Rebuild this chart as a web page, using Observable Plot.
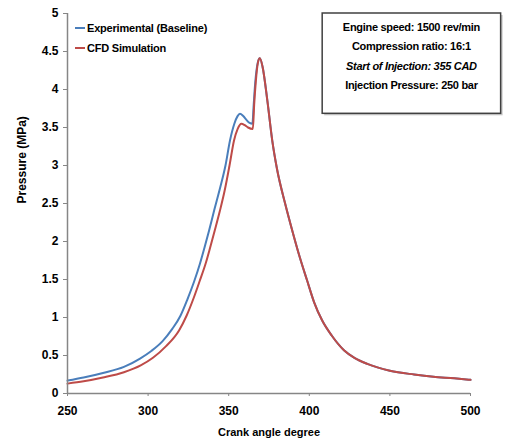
<!DOCTYPE html>
<html><head><meta charset="utf-8">
<script src="https://cdn.jsdelivr.net/npm/d3@7"></script>
<script src="https://cdn.jsdelivr.net/npm/@observablehq/plot@0.6"></script>
<style>
body{margin:0;background:#fff;}
#chart{position:relative;width:511px;height:443px;}
svg{font-family:"Liberation Sans",Arial,sans-serif;}
</style></head>
<body><div id="chart"></div>
<script>
const seriesNames = ["Experimental (Baseline)", "CFD Simulation"];
const seriesColors = ["#4a7ebb", "#be4b48"];
const expAngle = [250,260,272,285,295,302,309,315,320,324.4,328.5,332.2,335,337.8,341,344.6,348,350.8,353.5,355.5,357,359,361,363,364.7,365.5,366.5,368,369.3,371,374,377,380,385,390,394,398.6,403,408,414,421.5,428,436,450,465,477,490,500];
const expPressure = [0.17,0.21,0.27,0.35,0.46,0.56,0.69,0.85,1.02,1.24,1.47,1.71,1.92,2.14,2.41,2.70,3.0,3.33,3.55,3.65,3.68,3.65,3.6,3.56,3.55,3.8,4.1,4.35,4.41,4.3,3.85,3.33,2.95,2.5,2.1,1.8,1.49,1.2,0.96,0.76,0.57,0.47,0.39,0.30,0.25,0.22,0.20,0.18];
const cfdAngle = [250,260,272,285,295.4,303,311,319.2,324,328.5,332,335.7,338.5,341.3,344.5,347.5,350.5,353.3,355.5,357.9,360,362,365,365.8,366.8,368.2,369.3,371,374,377,380,385,390,394,398.6,403,408,414,421.5,428,436,450,465,477,490,500];
const cfdPressure = [0.13,0.16,0.21,0.28,0.37,0.47,0.62,0.83,1.03,1.27,1.48,1.71,1.92,2.14,2.4,2.67,3.0,3.33,3.48,3.55,3.53,3.5,3.48,3.8,4.1,4.36,4.41,4.3,3.85,3.33,2.95,2.5,2.1,1.8,1.49,1.2,0.96,0.76,0.57,0.47,0.39,0.30,0.25,0.22,0.20,0.18];
const xTicks = [250,300,350,400,450,500];
const yTicks = [0,0.5,1,1.5,2,2.5,3,3.5,4,4.5,5];
const infoLines = ["Engine speed: 1500 rev/min","Compression ratio: 16:1","Start of Injection: 355 CAD","Injection Pressure: 250 bar"];

const rows = [];
expAngle.forEach((a,i)=>rows.push({s:seriesNames[0],x:a,y:expPressure[i]}));
cfdAngle.forEach((a,i)=>rows.push({s:seriesNames[1],x:a,y:cfdPressure[i]}));

const axisColor = "#868686";
const plot = Plot.plot({
  width:511, height:443,
  marginLeft:67, marginRight:41, marginTop:13, marginBottom:50,
  style:{fontSize:"12px", fontWeight:"bold", color:"#000", background:"#fff"},
  x:{domain:[250,500], label:null},
  y:{domain:[0,5], label:null},
  color:{domain:seriesNames, range:seriesColors},
  marks:[
    Plot.line(rows,{x:"x",y:"y",stroke:"s",strokeWidth:2,curve:"monotone-x",z:"s"}),
    Plot.ruleX([250],{stroke:axisColor,strokeWidth:1.5}),
    Plot.ruleY([0],{stroke:axisColor,strokeWidth:1.5}),
    Plot.axisX({ticks:xTicks, tickSize:3, stroke:axisColor, tickPadding:10, fontWeight:"bold", fontSize:12, label:null, tickFormat:d3.format("d")}),
    Plot.axisY({ticks:yTicks, tickSize:4, stroke:axisColor, tickPadding:5, fontWeight:"bold", fontSize:12, label:null, tickFormat:d3.format("~g")}),
    Plot.text(["Crank angle degree"],{frameAnchor:"bottom",dy:42,fontWeight:"bold",fontSize:11}),
    Plot.text(["Pressure (MPa)"],{frameAnchor:"left",dx:-45,rotate:-90,fontWeight:"bold",fontSize:12})
  ]
});
document.getElementById("chart").appendChild(plot);

// legend and info box inside the frame
const svg = d3.select(plot);
const x = plot.scale("x"), y = plot.scale("y");
const x0 = x.apply(250), yTop = y.apply(5);
const lg = svg.append("g").attr("text-anchor","start");
seriesNames.forEach((n,i)=>{
  const yy = yTop + 15 + i*20;
  lg.append("line").attr("x1",x0+8).attr("x2",x0+18).attr("y1",yy).attr("y2",yy).attr("stroke",seriesColors[i]).attr("stroke-width",2);
  lg.append("text").attr("x",x0+20).attr("y",yy).attr("dy","0.35em").attr("font-weight","bold").attr("font-size",11).attr("letter-spacing","-0.2").text(n);
});
const bx0 = x.apply(408.3), bx1 = x.apply(519), by0 = y.apply(5), by1 = y.apply(3.68);
const box = svg.append("g").attr("text-anchor","middle");
box.append("rect").attr("x",bx0+2).attr("y",by0+2).attr("width",bx1-bx0).attr("height",by1-by0).attr("fill","#c8c8c8");
box.append("rect").attr("x",bx0).attr("y",by0).attr("width",bx1-bx0).attr("height",by1-by0).attr("fill","#fff").attr("stroke","#404040").attr("stroke-width",1.5);
infoLines.forEach((t,i)=>{
  box.append("text").attr("x",(bx0+bx1)/2).attr("y",by0+14+i*19.5).attr("dy","0.35em")
    .attr("font-weight","bold").attr("font-size",11).attr("letter-spacing","-0.3")
    .attr("font-style", i===2 ? "italic" : "normal").text(t);
});
</script></body></html>
